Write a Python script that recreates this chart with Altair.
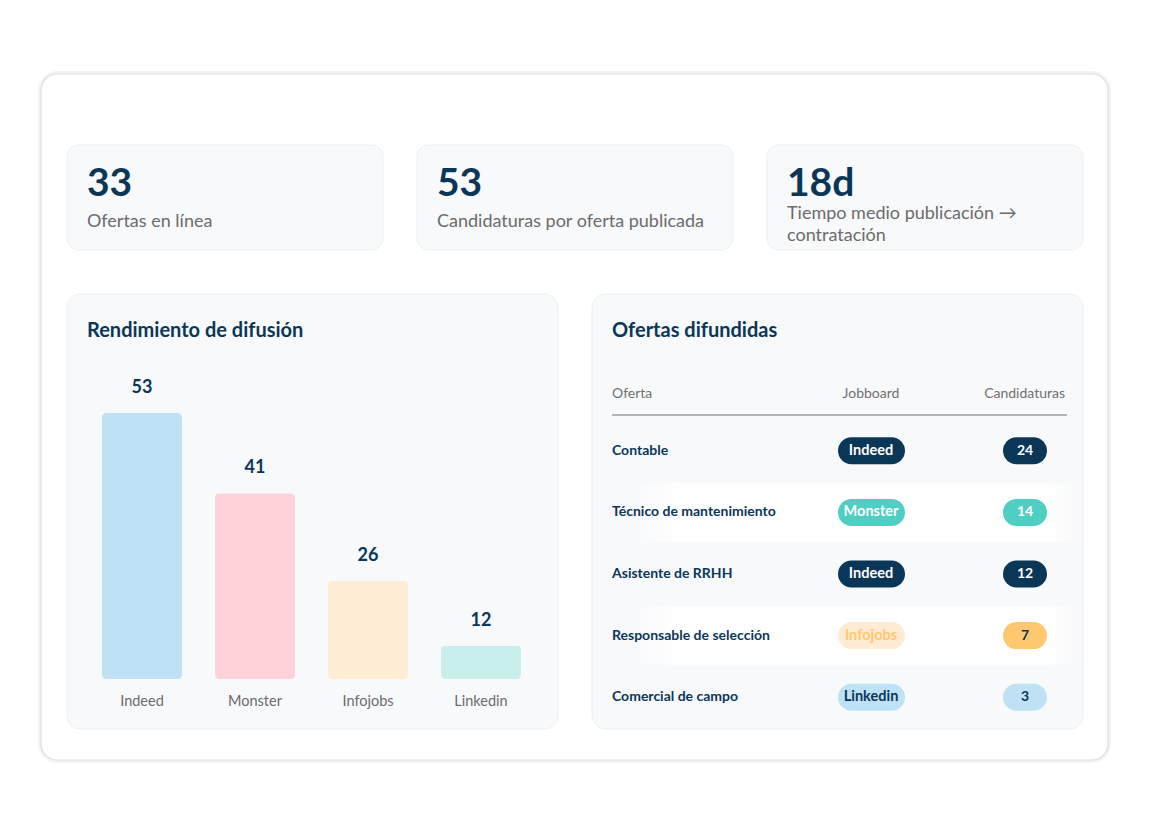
import altair as alt
import pandas as pd

# ---------------- data ----------------
kpi_values = ["33", "53", "18d"]
kpi_labels = ["Ofertas en línea", "Candidaturas por oferta publicada", "Tiempo medio publicación →\ncontratación"]

panel_titles = ["Rendimiento de difusión", "Ofertas difundidas"]

boards = ["Indeed", "Monster", "Infojobs", "Linkedin"]
board_counts = [53, 41, 26, 12]

table_headers = ["Oferta", "Jobboard", "Candidaturas"]
offers = ["Contable", "Técnico de mantenimiento", "Asistente de RRHH",
          "Responsable de selección", "Comercial de campo"]
offer_boards = ["Indeed", "Monster", "Indeed", "Infojobs", "Linkedin"]
offer_counts = [24, 14, 12, 7, 3]

# ---------------- styles ----------------
FONT = "Lato"
NAVY = "#0a3758"
GREY = "#6b6b6b"
CARD = "#f8f9fb"
CARD_STROKE = "#eceef2"
bar_colors = ["#bfe1f6", "#ffd1d9", "#ffecd4", "#c9efea"]
pill_bg = ["#0a3758", "#4fcfc4", "#ffebd3", "#bfe1f6"]
pill_fg = ["#ffffff", "#ffffff", "#ffc870", "#0a3758"]
count_bg = ["#0a3758", "#4fcfc4", "#ffc870", "#bfe1f6"]
count_fg = ["#ffffff", "#ffffff", "#0a3758", "#0a3758"]

W, H = 1149, 833

kpi_df = pd.DataFrame({"kpi": kpi_values, "label": kpi_labels})
panel_df = pd.DataFrame({"panel": panel_titles})
bar_df = pd.DataFrame({"board": boards, "count": board_counts})
table_df = pd.DataFrame({"offer": offers, "board": offer_boards, "count": offer_counts})

# ---------------- scales ----------------
kpi_x = alt.Scale(type="band", domain=kpi_values, range=[67, 1083], paddingInner=34 / 350, paddingOuter=0)
panel_x = alt.Scale(type="band", domain=panel_titles, range=[67, 1083], paddingInner=34 / 525, paddingOuter=0)
bar_x = alt.Scale(type="band", domain=boards, range=[85.5, 537.5], paddingInner=33 / 113, paddingOuter=33 / 226)
bar_y = alt.Scale(type="pow", exponent=1.4, domain=[0, 53], range=[679, 413], nice=False, zero=True)
row_y = alt.Scale(type="band", domain=offers, range=[420, 728], paddingInner=0.05, paddingOuter=0.025)
# vertical position of the KPI caption block depending on its number of lines
kpi_lines_y = alt.Scale(domain=[1, 2], range=[222, 214], nice=False, zero=False)

# ---------------- layers ----------------
outer_shadow = alt.Chart(pd.DataFrame({"a": [0]})).mark_rect(
    fill="#ffffff", stroke="#f3f3f3", strokeWidth=4, cornerRadius=18
).encode(x=alt.value(40), x2=alt.value(1109), y=alt.value(73), y2=alt.value(761))

outer = alt.Chart(pd.DataFrame({"a": [0]})).mark_rect(
    fill="#ffffff", stroke="#dedede", strokeWidth=1.2, cornerRadius=16
).encode(x=alt.value(41), x2=alt.value(1108), y=alt.value(74), y2=alt.value(760))

kpi_cards = alt.Chart(kpi_df).mark_rect(
    fill=CARD, stroke=CARD_STROKE, strokeWidth=1, cornerRadius=12
).encode(
    x=alt.X("kpi:N", scale=kpi_x, axis=None),
    y=alt.value(145), y2=alt.value(250),
)

kpi_num = alt.Chart(kpi_df).mark_text(
    align="left", baseline="alphabetic", dx=20, font=FONT, fontSize=39,
    fontWeight="bold", color=NAVY
).encode(
    x=alt.X("kpi:N", scale=kpi_x, axis=None, bandPosition=0),
    y=alt.value(196),
    text="kpi:N",
)

kpi_lab = alt.Chart(kpi_df).transform_calculate(
    nlines="length(split(datum.label, '\\n'))"
).mark_text(
    align="left", baseline="middle", dx=20, font=FONT, fontSize=18,
    color=GREY, lineBreak="\n", lineHeight=22
).encode(
    x=alt.X("kpi:N", scale=kpi_x, axis=None, bandPosition=0),
    y=alt.Y("nlines:Q", scale=kpi_lines_y, axis=None),
    text="label:N",
)

panels = alt.Chart(panel_df).mark_rect(
    fill=CARD, stroke=CARD_STROKE, strokeWidth=1, cornerRadius=14
).encode(
    x=alt.X("panel:N", scale=panel_x, axis=None),
    y=alt.value(294), y2=alt.value(729),
)

panel_tit = alt.Chart(panel_df).mark_text(
    align="left", baseline="middle", dx=20, font=FONT, fontSize=20,
    fontWeight="bold", color=NAVY
).encode(
    x=alt.X("panel:N", scale=panel_x, axis=None, bandPosition=0),
    y=alt.value(331),
    text="panel:N",
)

bars = alt.Chart(bar_df).mark_bar(cornerRadius=4).encode(
    x=alt.X("board:N", scale=bar_x, axis=None),
    y=alt.Y("count:Q", scale=bar_y, axis=None),
    color=alt.Color("board:N", scale=alt.Scale(domain=boards, range=bar_colors), legend=None),
)

bar_vals = alt.Chart(bar_df).mark_text(
    baseline="alphabetic", dy=-20, font=FONT, fontSize=18, fontWeight="bold", color=NAVY
).encode(
    x=alt.X("board:N", scale=bar_x, axis=None),
    y=alt.Y("count:Q", scale=bar_y, axis=None),
    text="count:Q",
)

bar_labs = alt.Chart(bar_df).mark_text(
    baseline="middle", font=FONT, fontSize=14.5, color=GREY
).encode(
    x=alt.X("board:N", scale=bar_x, axis=None),
    y=alt.value(702),
    text="board:N",
)

hdr_style = dict(baseline="middle", font=FONT, fontSize=14, color="#707070")
hdr1 = alt.Chart(pd.DataFrame({"h": [table_headers[0]]})).mark_text(align="left", **hdr_style).encode(
    x=alt.value(612), y=alt.value(394), text="h:N")
hdr2 = alt.Chart(pd.DataFrame({"h": [table_headers[1]]})).mark_text(align="center", **hdr_style).encode(
    x=alt.value(871), y=alt.value(394), text="h:N")
hdr3 = alt.Chart(pd.DataFrame({"h": [table_headers[2]]})).mark_text(align="right", **hdr_style).encode(
    x=alt.value(1065), y=alt.value(394), text="h:N")

hdr_rule = alt.Chart(pd.DataFrame({"a": [0]})).mark_rule(color="#9c9c9c", strokeWidth=1.5).encode(
    x=alt.value(612), x2=alt.value(1067), y=alt.value(415))

row_bg = alt.Chart(table_df).transform_window(
    rn="row_number()"
).transform_filter("datum.rn % 2 == 0").mark_rect(
    color=alt.Gradient(
        gradient="linear", x1=0, x2=1, y1=0, y2=0,
        stops=[alt.GradientStop(color=CARD, offset=0),
               alt.GradientStop(color="#ffffff", offset=0.1),
               alt.GradientStop(color="#ffffff", offset=0.93),
               alt.GradientStop(color=CARD, offset=1)],
    )
).encode(
    x=alt.value(636), x2=alt.value(1078),
    y=alt.Y("offer:N", scale=row_y, axis=None),
)

row_names = alt.Chart(table_df).mark_text(
    align="left", baseline="middle", font=FONT, fontSize=14, fontWeight="bold", color=NAVY
).encode(
    x=alt.value(612),
    y=alt.Y("offer:N", scale=row_y, axis=None, bandPosition=0.5),
    text="offer:N",
)

board_pill = alt.Chart(table_df).mark_rule(strokeWidth=27, strokeCap="round").encode(
    x=alt.value(851.5), x2=alt.value(891.5),
    y=alt.Y("offer:N", scale=row_y, axis=None, bandPosition=0.5),
    color=alt.Color("board:N", scale=alt.Scale(domain=boards, range=pill_bg), legend=None),
)

board_txt = alt.Chart(table_df).mark_text(
    align="center", baseline="middle", font=FONT, fontSize=14.5, fontWeight="bold"
).encode(
    x=alt.value(871),
    y=alt.Y("offer:N", scale=row_y, axis=None, bandPosition=0.5),
    text="board:N",
    color=alt.Color("board:N", scale=alt.Scale(domain=boards, range=pill_fg), legend=None),
)

count_pill = alt.Chart(table_df).mark_rule(strokeWidth=27, strokeCap="round").encode(
    x=alt.value(1016.5), x2=alt.value(1033.5),
    y=alt.Y("offer:N", scale=row_y, axis=None, bandPosition=0.5),
    color=alt.Color("board:N", scale=alt.Scale(domain=boards, range=count_bg), legend=None),
)

count_txt = alt.Chart(table_df).mark_text(
    align="center", baseline="middle", font=FONT, fontSize=14, fontWeight="bold"
).encode(
    x=alt.value(1025),
    y=alt.Y("offer:N", scale=row_y, axis=None, bandPosition=0.5),
    text="count:Q",
    color=alt.Color("board:N", scale=alt.Scale(domain=boards, range=count_fg), legend=None),
)

chart = alt.layer(
    outer_shadow, outer, kpi_cards, kpi_num, kpi_lab, panels, panel_tit,
    bars, bar_vals, bar_labs, hdr1, hdr2, hdr3, hdr_rule, row_bg, row_names,
    board_pill, board_txt, count_pill, count_txt,
).resolve_scale(
    x="independent", y="independent", color="independent"
).properties(
    width=W, height=H, padding=0, autosize=alt.AutoSizeParams(type="none"),
    background="#ffffff",
).configure_view(stroke=None)

chart.save("out.html", embed_options={"renderer": "svg", "actions": False})
